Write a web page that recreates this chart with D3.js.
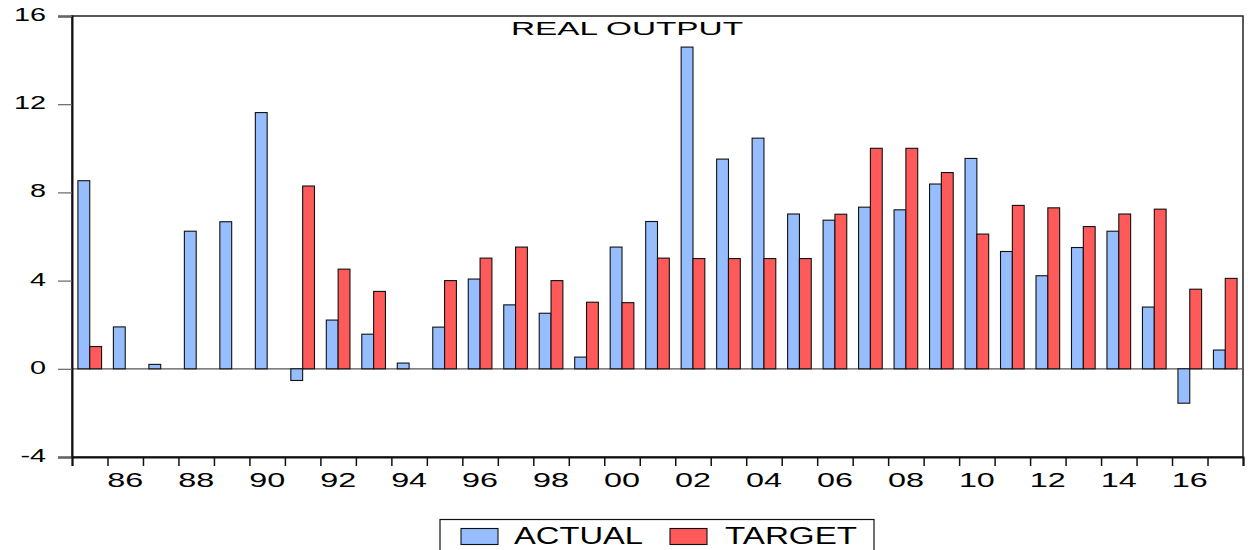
<!DOCTYPE html>
<html><head><meta charset="utf-8">
<script src="https://cdn.jsdelivr.net/npm/d3@7"></script>
<style>
html,body{margin:0;padding:0;background:#fff;}
svg{display:block;font-family:"Liberation Sans",Arial,sans-serif;}
</style></head>
<body>
<svg id="chart" width="1248" height="550"></svg>
<script>
const years = d3.range(1985, 2018);
const actual = [8.53,1.90,0.20,6.24,6.67,11.62,-0.53,2.21,1.57,0.26,1.89,4.07,2.90,2.52,0.53,
                5.52,6.68,14.59,9.51,10.46,7.02,6.74,7.33,7.21,8.38,9.54,5.32,4.22,5.50,6.24,2.80,-1.56,0.85];
const target = [1.01,null,null,null,null,null,8.29,4.52,3.51,null,4.00,5.02,5.52,4.00,3.02,
                3.00,5.02,5.00,5.00,5.00,5.00,7.01,10.0,10.0,8.90,6.11,7.41,7.30,6.45,7.02,7.24,3.61,4.10];
const yTicks = [-4,0,4,8,12,16];
const seriesNames = ["ACTUAL","TARGET"];
const colors = ["#96BEFF","#FF5A5A"];
const title = "REAL OUTPUT";

const svg = d3.select("#chart");
const L = 72, R = 1243, T = 16, B = 457;

const x = d3.scaleBand().domain(years).range([L, R]).padding(0);
const xs = d3.scaleBand().domain(["a","t"]).range([0, x.bandwidth()]).paddingInner(0).paddingOuter(0.5);
const y = d3.scaleLinear().domain([-4, 16]).range([B, T]);
const xb = d3.scaleLinear().domain([1985, 2018]).range([L, R]);

// frame
svg.append("rect").attr("x", L).attr("y", T).attr("width", R - L).attr("height", B - T)
  .attr("fill", "none").attr("stroke", "#222").attr("stroke-width", 1.5);

// zero line
svg.append("line").attr("x1", L).attr("x2", R).attr("y1", y(0)).attr("y2", y(0))
  .attr("stroke", "#555").attr("stroke-width", 1.2);

// bars
const data = [];
years.forEach((yr, i) => {
  data.push({yr, k: "a", v: actual[i], c: colors[0]});
  if (target[i] != null) data.push({yr, k: "t", v: target[i], c: colors[1]});
});
svg.append("g").selectAll("rect").data(data).join("rect")
  .attr("x", d => x(d.yr) + xs(d.k))
  .attr("width", xs.bandwidth())
  .attr("y", d => y(Math.max(0, d.v)))
  .attr("height", d => Math.abs(y(d.v) - y(0)))
  .attr("fill", d => d.c)
  .attr("stroke", "#111").attr("stroke-width", 1.1);

// y axis
const gy = svg.append("g").attr("transform", `translate(${L},0)`)
  .call(d3.axisLeft(y).tickValues(yTicks).tickSize(14).tickFormat(d => String(d)));
gy.select(".domain").attr("stroke", "#111").attr("stroke-width", 2);
gy.selectAll(".tick line").attr("stroke", "#666").attr("stroke-width", 1.2);
gy.selectAll(".tick text").attr("x", 0).attr("dy", "0.3em")
  .attr("transform", "translate(-26,-1) scale(1.55,1)")
  .attr("font-size", 18.6).attr("fill", "#000")
  .attr("font-family", "Liberation Sans, Arial, sans-serif");

// x boundary ticks
const gxb = svg.append("g").attr("transform", `translate(0,${B})`)
  .call(d3.axisBottom(xb).tickValues(d3.range(1985, 2019)).tickSize(9).tickFormat(""));
gxb.select(".domain").attr("stroke", "#111").attr("stroke-width", 2);
gxb.selectAll(".tick line").attr("stroke", "#111").attr("stroke-width", 1.5);

// x labels
const gx = svg.append("g").attr("transform", `translate(0,${B})`)
  .call(d3.axisBottom(x).tickValues(years.filter(d => d % 2 === 0)).tickSize(0).tickPadding(15)
    .tickFormat(d => String(d).slice(2)));
gx.select(".domain").remove();
gx.selectAll(".tick text").attr("x", 0).attr("transform", "scale(1.54,1)")
  .attr("font-size", 21).attr("fill", "#000")
  .attr("font-family", "Liberation Sans, Arial, sans-serif");

// title
svg.append("text").attr("x", 511).attr("y", 35).attr("font-size", 18.6)
  .attr("textLength", 232).attr("lengthAdjust", "spacingAndGlyphs")
  .attr("fill", "#000").text(title);

// legend
const lg = svg.append("g");
lg.append("rect").attr("x", 440).attr("y", 519.5).attr("width", 434).attr("height", 45)
  .attr("fill", "#fff").attr("stroke", "#111").attr("stroke-width", 1.2);
const legX = [461, 670], legTX = [514, 725], legTL = [129, 132];
seriesNames.forEach((n, i) => {
  lg.append("rect").attr("x", legX[i]).attr("y", 528.5).attr("width", 37).attr("height", 16)
    .attr("fill", colors[i]).attr("stroke", "#111").attr("stroke-width", 1.1);
  lg.append("text").attr("x", legTX[i]).attr("y", 543.5).attr("font-size", 23)
    .attr("textLength", legTL[i]).attr("lengthAdjust", "spacingAndGlyphs")
    .attr("fill", "#000").text(n);
});
</script>
</body></html>
